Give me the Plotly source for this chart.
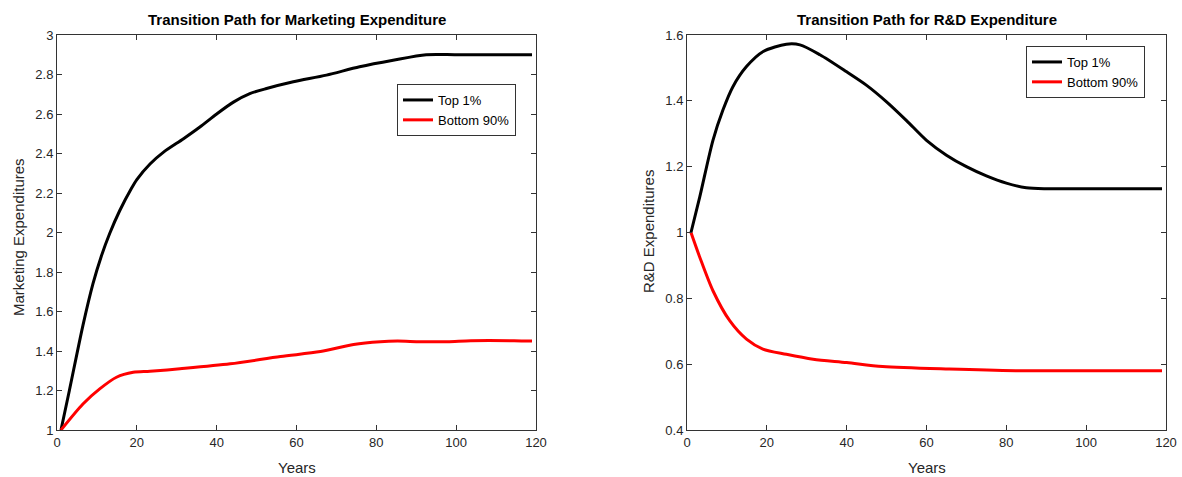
import plotly.graph_objects as go

# ---------------- data ----------------
mkt_years = [1, 3.1, 6.5, 9, 11.1, 13.2, 15.7, 18.7, 20, 23.3, 26.7, 31.7, 35.8, 40, 44.2, 48.3, 52.5,
             59.2, 67.5, 75.8, 84.2, 92.5, 100, 110, 119]
mkt_top1 = [1.0, 1.2, 1.53, 1.74, 1.88, 1.995, 2.11, 2.225, 2.268, 2.347, 2.407, 2.475, 2.534, 2.6, 2.66,
            2.703, 2.729, 2.763, 2.797, 2.839, 2.872, 2.9, 2.9, 2.9, 2.9]

mkt_years_b = [1, 6.5, 10.7, 14.9, 19.1, 23.3, 30.8, 43.4, 56, 66, 74.3, 81, 85.3, 91, 97.8, 103.7, 114.5, 119]
mkt_bot90 = [1.0, 1.132, 1.208, 1.267, 1.292, 1.297, 1.31, 1.335, 1.372, 1.397, 1.433, 1.447, 1.45, 1.447,
             1.447, 1.452, 1.452, 1.45]

rd_years = [1, 3.2, 6.5, 9, 11.5, 14.9, 19.1, 24.9, 28.3, 33.3, 40, 45, 50, 55, 60, 65, 70, 75, 80, 85,
            90, 100, 119]
rd_top1 = [1.0, 1.108, 1.28, 1.372, 1.443, 1.504, 1.55, 1.572, 1.57, 1.54, 1.488, 1.447, 1.397, 1.34, 1.28,
           1.235, 1.2, 1.172, 1.15, 1.136, 1.133, 1.133, 1.133]

rd_years_b = [1, 3.2, 6.5, 10.7, 14.9, 19, 24.9, 31.6, 40, 49, 65.7, 82.4, 100, 119]
rd_bot90 = [1.0, 0.925, 0.823, 0.732, 0.676, 0.646, 0.63, 0.615, 0.605, 0.593, 0.585, 0.58, 0.58, 0.58]

x_ticks = [0, 20, 40, 60, 80, 100, 120]
mkt_ticks = [1, 1.2, 1.4, 1.6, 1.8, 2, 2.2, 2.4, 2.6, 2.8, 3]
mkt_tick_text = ["1", "1.2", "1.4", "1.6", "1.8", "2", "2.2", "2.4", "2.6", "2.8", "3"]
rd_ticks = [0.4, 0.6, 0.8, 1.0, 1.2, 1.4, 1.6]
rd_tick_text = ["0.4", "0.6", "0.8", "1", "1.2", "1.4", "1.6"]

# ---------------- figure ----------------
FONT = "Liberation Sans, Arial, Helvetica, sans-serif"
AX = "#333333"
TXT = "#262626"
fig = go.Figure()

line_common = dict(width=3, shape="spline", smoothing=0.8)

fig.add_trace(go.Scatter(x=mkt_years, y=mkt_top1, mode="lines", name="Top 1%",
                         line=dict(color="black", **line_common), xaxis="x", yaxis="y", legend="legend"))
fig.add_trace(go.Scatter(x=mkt_years_b, y=mkt_bot90, mode="lines", name="Bottom 90%",
                         line=dict(color="#ff0000", **line_common), xaxis="x", yaxis="y", legend="legend"))
fig.add_trace(go.Scatter(x=rd_years, y=rd_top1, mode="lines", name="Top 1%",
                         line=dict(color="black", **line_common), xaxis="x2", yaxis="y2", legend="legend2"))
fig.add_trace(go.Scatter(x=rd_years_b, y=rd_bot90, mode="lines", name="Bottom 90%",
                         line=dict(color="#ff0000", **line_common), xaxis="x2", yaxis="y2", legend="legend2"))

W, H = 1182, 477
L1, R1 = 57, 536
L2, R2 = 687, 1166
TOP, BOT = 35, 430
yd = [1 - BOT / H, 1 - TOP / H]

axis_common = dict(showline=True, linecolor=AX, linewidth=1, mirror="ticks", ticks="inside",
                   ticklen=5, tickcolor=AX, tickwidth=1, showgrid=False, zeroline=False,
                   automargin=False, tickfont=dict(family=FONT, size=13, color=TXT))

legend_common = dict(bgcolor="white", bordercolor=AX, borderwidth=1,
                     font=dict(family=FONT, size=13, color="black"),
                     itemwidth=30, tracegroupgap=0, xanchor="left", yanchor="top",
                     itemclick=False, itemdoubleclick=False)

fig.update_layout(
    width=W, height=H,
    margin=dict(l=0, r=0, t=0, b=0, autoexpand=False),
    paper_bgcolor="white", plot_bgcolor="white",
    xaxis=dict(domain=[L1 / W, R1 / W], range=[0, 120], tickvals=x_ticks, anchor="y", **axis_common),
    yaxis=dict(domain=yd, range=[1, 3], tickvals=mkt_ticks, ticktext=mkt_tick_text, anchor="x", **axis_common),
    xaxis2=dict(domain=[L2 / W, R2 / W], range=[0, 120], tickvals=x_ticks, anchor="y2", **axis_common),
    yaxis2=dict(domain=yd, range=[0.4, 1.6], tickvals=rd_ticks, ticktext=rd_tick_text, anchor="x2", **axis_common),
    legend=dict(x=397 / W, y=1 - 84 / H, **legend_common),
    legend2=dict(x=1026 / W, y=1 - 46 / H, **legend_common),
    showlegend=True,
)

def ann(text, x, y, size, bold=False, angle=0):
    fig.add_annotation(text=f"<b>{text}</b>" if bold else text, x=x / W, y=1 - y / H,
                       xref="paper", yref="paper", showarrow=False, textangle=angle,
                       font=dict(family=FONT, size=size, color="black" if bold else TXT),
                       xanchor="center", yanchor="middle")

ann("Transition Path for Marketing Expenditure", (L1 + R1) / 2, 19, 15, bold=True)
ann("Transition Path for R&D Expenditure", (L2 + R2) / 2, 19, 15, bold=True)
ann("Years", (L1 + R1) / 2, 467, 15)
ann("Years", (L2 + R2) / 2, 467, 15)
ann("Marketing Expenditures", 18, 237, 15, angle=-90)
ann("R&D Expenditures", 648, 232, 15, angle=-90)

fig.write_html("out.html")
